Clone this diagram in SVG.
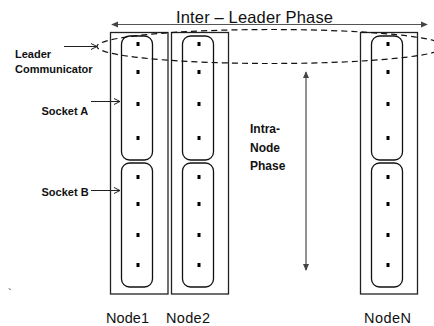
<svg xmlns="http://www.w3.org/2000/svg" width="434" height="326" viewBox="0 0 434 326">
  <style>
    .outer { fill: #fff; stroke: #222; stroke-width: 1.3; }
    .sock { fill: #fff; stroke: #111; stroke-width: 1.3; }
    .dot { fill: #000; }
    .lbl { font-family: "Liberation Sans", Arial, sans-serif; font-weight: bold; font-size: 11px; fill: #111; }
    .phase { font-family: "Liberation Sans", Arial, sans-serif; font-weight: bold; font-size: 12px; fill: #111; }
    .title { font-family: "Liberation Sans", Arial, sans-serif; font-size: 16.5px; fill: #111; }
    .node { font-family: "Liberation Sans", Arial, sans-serif; font-size: 14.5px; fill: #111; }
    .conn { fill: none; stroke: #222; stroke-width: 1; }
    .wide { fill: none; stroke: #555; stroke-width: 1.2; }
    .ring { fill: none; stroke: #111; stroke-width: 1.2; stroke-dasharray: 6 4; }
  </style>
  <defs>
    <marker id="open" viewBox="0 0 8 8" refX="7" refY="4" markerWidth="8" markerHeight="8" markerUnits="userSpaceOnUse" orient="auto">
      <path d="M1,1 L7,4 L1,7" fill="none" stroke="#222" stroke-width="1"/>
    </marker>
    <marker id="tri" viewBox="0 0 8 8" refX="7" refY="4" markerWidth="7" markerHeight="7" markerUnits="userSpaceOnUse" orient="auto-start-reverse">
      <path d="M0,0.5 L8,4 L0,7.5 Z" fill="#444"/>
    </marker>
    <g id="dots">
      <rect class="dot" x="-1.5" y="42" width="3" height="4"/>
      <rect class="dot" x="-1.5" y="70" width="3" height="4"/>
      <rect class="dot" x="-1.5" y="102" width="3" height="4"/>
      <rect class="dot" x="-1.5" y="136" width="3" height="4"/>
      <rect class="dot" x="-1.5" y="175" width="3" height="4"/>
      <rect class="dot" x="-1.5" y="202" width="3" height="4"/>
      <rect class="dot" x="-1.5" y="233" width="3" height="4"/>
      <rect class="dot" x="-1.5" y="263" width="3" height="4"/>
    </g>
  </defs>

  <g id="node1">
    <rect class="outer" x="110.5" y="32.5" width="57.5" height="261.5"/>
    <rect class="sock" x="121.5" y="36" width="31" height="124" rx="8"/>
    <rect class="sock" x="121.5" y="163" width="31" height="124" rx="8"/>
    <use href="#dots" x="138"/>
    <text class="node" x="106" y="323" textLength="43">Node1</text>
  </g>

  <g id="node2">
    <rect class="outer" x="171.5" y="32.5" width="57" height="261.5"/>
    <rect class="sock" x="182.5" y="36" width="31" height="124" rx="8"/>
    <rect class="sock" x="182.5" y="163" width="31" height="124" rx="8"/>
    <use href="#dots" x="199"/>
    <text class="node" x="166" y="323" textLength="44">Node2</text>
  </g>

  <g id="nodeN">
    <rect class="outer" x="360.5" y="32.5" width="57" height="261.5"/>
    <rect class="sock" x="371.5" y="36" width="31" height="124" rx="8"/>
    <rect class="sock" x="371.5" y="163" width="31" height="124" rx="8"/>
    <use href="#dots" x="388"/>
    <text class="node" x="364" y="323" textLength="47">NodeN</text>
  </g>

  <!-- leader ring spanning the first socket of every node -->
  <g id="leader-ring">
    <ellipse class="ring" cx="271" cy="46.5" rx="174" ry="17"/>
  </g>

  <g id="connectors">
    <line class="wide" x1="112" y1="24.5" x2="427" y2="24.5" marker-start="url(#tri)" marker-end="url(#tri)"/>
    <line class="conn" x1="306" y1="72" x2="306" y2="270" marker-start="url(#tri)" marker-end="url(#tri)"/>
    <line class="conn" x1="64" y1="46.5" x2="97" y2="46.5" marker-end="url(#open)"/>
    <line class="conn" x1="91" y1="101.5" x2="120" y2="101.5" marker-end="url(#open)"/>
    <line class="conn" x1="91" y1="190.5" x2="120" y2="190.5" marker-end="url(#open)"/>
  </g>

  <g id="labels">
    <text class="title" x="176" y="23" textLength="157">Inter – Leader Phase</text>
    <text class="lbl" x="15" y="58">Leader</text>
    <text class="lbl" x="15" y="72.5">Communicator</text>
    <text class="lbl" x="41.5" y="115">Socket A</text>
    <text class="lbl" x="41.5" y="195.5">Socket B</text>
    <text class="phase" x="250" y="133">Intra-</text>
    <text class="phase" x="250" y="151.5">Node</text>
    <text class="phase" x="250" y="170">Phase</text>
    <text class="lbl" x="8" y="297" style="font-weight:normal">`</text>
  </g>
</svg>
